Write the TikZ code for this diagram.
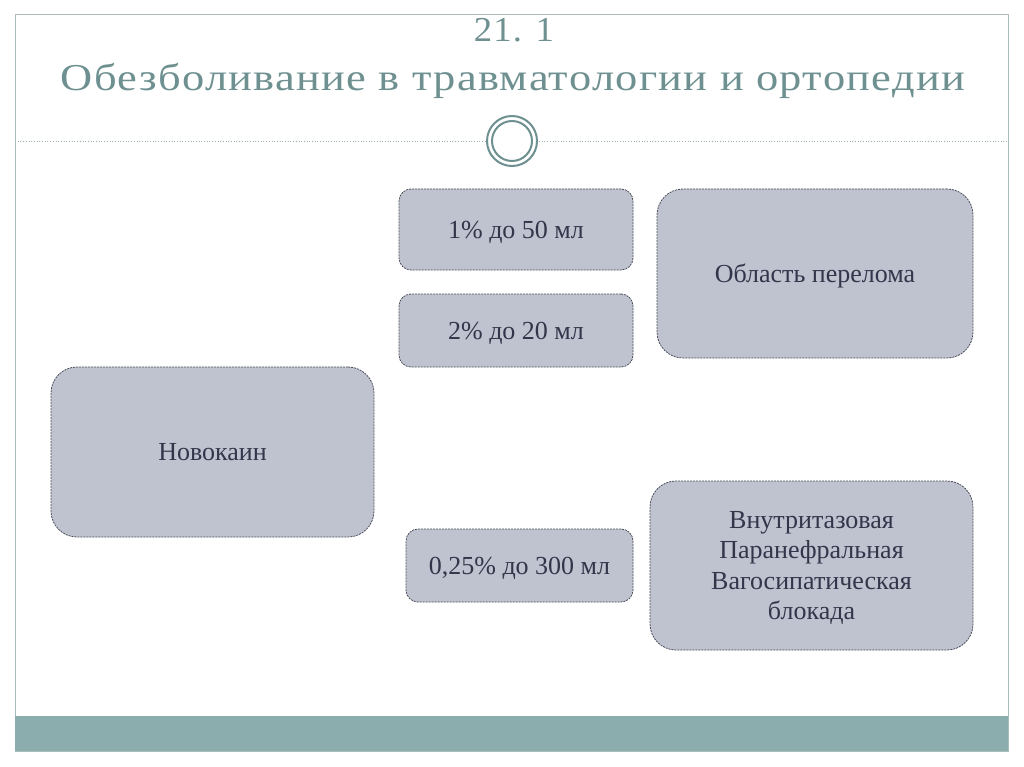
\documentclass[tikz,border=0pt]{standalone}
\usepackage{fontspec}
\setmainfont{Liberation Serif}
\newfontfamily\titlefont[LetterSpace=3]{Liberation Serif}
\definecolor{titlegray}{HTML}{6F9090}
\definecolor{framegray}{HTML}{A9BDBD}
\definecolor{barteal}{HTML}{8BADAD}
\definecolor{boxfill}{HTML}{BFC2CF}
\definecolor{boxline}{HTML}{4A4D5A}
\definecolor{boxtext}{HTML}{33364A}
\tikzset{
    dosebox/.style={draw=boxline, fill=boxfill, line width=0.8pt,
        dash pattern=on 2pt off 1pt, rounded corners=12pt,
        text=boxtext, font=\fontsize{26}{30.5}\selectfont, align=center,
        inner sep=0pt, text depth=0pt},
    bigbox/.style={dosebox, rounded corners=26pt},
    headline/.style={text=titlegray, anchor=base, inner sep=0pt,
        font=\titlefont\fontsize{38}{44}\selectfont}
}
\begin{document}
\begin{tikzpicture}[x=1pt, y=-1pt]
            \useasboundingbox (0, 0) rectangle (1024, 767);
            \fill[white] (0, 0) rectangle (1024, 767);

            % slide frame and footer bar
            \draw[framegray, line width=1pt] (15, 15) rectangle (1008, 751);
            \fill[barteal] (15, 716) rectangle (1008, 751);

            % title
            \node[headline, font=\titlefont\fontsize{35}{40}\selectfont] (num) at (514, 42) {\scalebox{1.05}[1]{21. 1}};
            \node[headline] (title) at (513, 91) {\scalebox{1.17}[1]{Обезболивание в травматологии и ортопедии}};

            % separator with rings
            \draw[titlegray!70, dotted, line width=0.7pt] (15, 141) -- (485, 141);
            \draw[titlegray!70, dotted, line width=0.7pt] (539, 141) -- (1008, 141);
            \foreach \r in {25, 20} {
                \draw[titlegray, line width=2pt] (512, 141) circle (\r);
            }

            % boxes
            \node[bigbox, minimum width=323pt, minimum height=170pt] (novocain) at (212.5, 452) {Новокаин};
            \node[dosebox, minimum width=234pt, minimum height=81pt] (doseone) at (516, 229.5) {1\% до 50 мл};
            \node[dosebox, minimum width=234pt, minimum height=73pt] (dosetwo) at (516, 330.5) {2\% до 20 мл};
            \node[dosebox, minimum width=227pt, minimum height=73pt] (dosethree) at (519.5, 565.5) {0,25\% до 300 мл};
            \node[bigbox, minimum width=316pt, minimum height=169pt] (fracture) at (815, 273.5) {Область перелома};
            \node[bigbox, minimum width=323pt, minimum height=169pt] (blockade) at (811.5, 565.5)
                {Внутритазовая\\Паранефральная\\Вагосипатическая\\блокада};
        \end{tikzpicture}
\end{document}
